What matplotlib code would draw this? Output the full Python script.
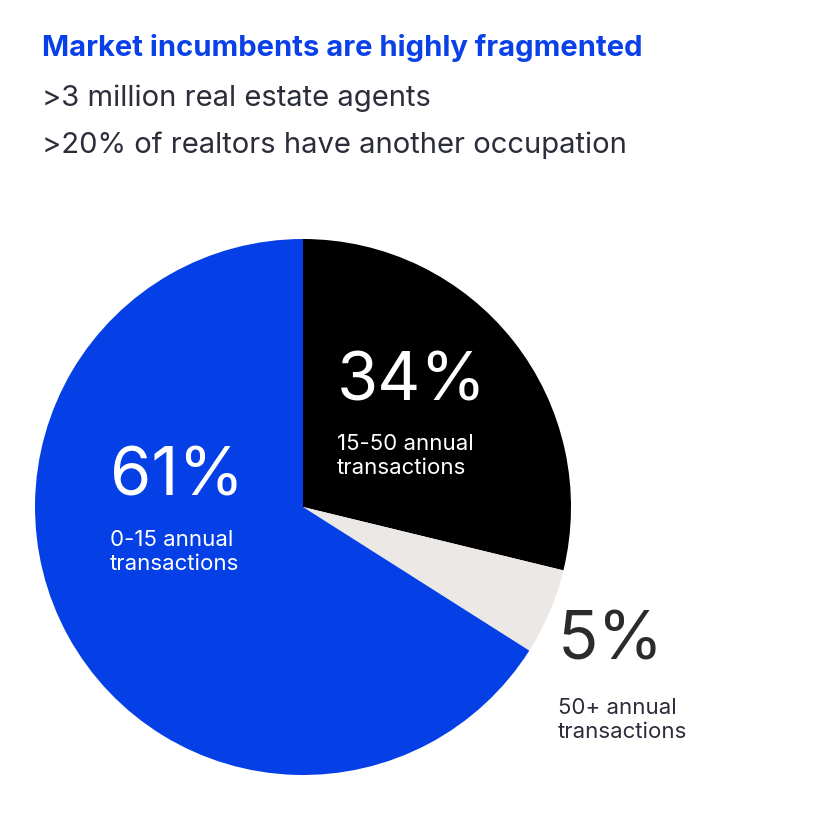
import matplotlib
matplotlib.use("Agg")
import matplotlib.pyplot as plt

plt.rcParams['font.family'] = ['Inter', 'DejaVu Sans']

# wedge sizes as drawn (clockwise from top)
segments = ["15-50 annual\ntransactions", "50+ annual\ntransactions", "0-15 annual\ntransactions"]
drawn_share = [28.8, 5.2, 66.0]
labels_pct = ["34%", "5%", "61%"]
colors = ["#000000", "#ebe8e5", "#0540e6"]

fig = plt.figure(figsize=(8.15, 8.38), dpi=100)
fig.patch.set_facecolor("white")

fig.text(42/815, 1-48/838, "Market incumbents are highly fragmented", color="#0a40e8",
         fontsize=21, fontweight="bold", va="center", ha="left")
fig.text(42/815, 1-98/838, ">3 million real estate agents", color="#2b2d3a",
         fontsize=21, va="center", ha="left")
fig.text(42/815, 1-145/838, ">20% of realtors have another occupation", color="#2b2d3a",
         fontsize=21, va="center", ha="left")

ax = fig.add_axes([35/815, 63/838, 536/815, 536/838])
ax.pie(drawn_share, colors=colors, startangle=90, counterclock=False,
       wedgeprops=dict(linewidth=0))
ax.set_xlim(-1, 1); ax.set_ylim(-1, 1)
ax.set_aspect("equal")
ax.axis("off")

def px(x, y):
    return x/815, 1-y/838

# 34%
fig.text(*px(337, 383), labels_pct[0], color="white", fontsize=48, va="center", ha="left")
fig.text(*px(337, 456), segments[0], color="white", fontsize=16, va="center", ha="left", linespacing=1.3)
# 61%
fig.text(*px(110, 478), labels_pct[2], color="white", fontsize=48, va="center", ha="left")
fig.text(*px(110, 552), segments[2], color="white", fontsize=16, va="center", ha="left", linespacing=1.3)
# 5%
fig.text(*px(558, 642), labels_pct[1], color="#2b2b2b", fontsize=48, va="center", ha="left")
fig.text(*px(558, 720), segments[1], color="#2b2d3a", fontsize=16, va="center", ha="left", linespacing=1.3)

fig.savefig("out.png", dpi=100, facecolor="white")
